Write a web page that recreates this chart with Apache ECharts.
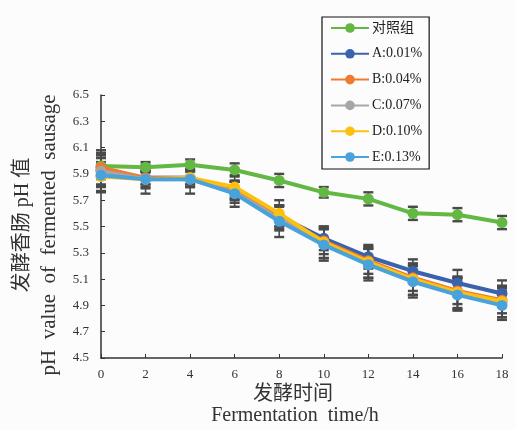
<!DOCTYPE html>
<html><head><meta charset="utf-8">
<script src="https://cdn.jsdelivr.net/npm/echarts@6/dist/echarts.min.js"></script>
<style>html,body{margin:0;padding:0;background:#fcfcfc}#c{width:516px;height:430px}</style>
</head><body><div id="c"></div>
<script>
const times = [0, 2, 4, 6, 8, 10, 12, 14, 16, 18];
const seriesNames = ['对照组', 'A:0.01%', 'B:0.04%', 'C:0.07%', 'D:0.10%', 'E:0.13%'];
const ctrlVals = [5.96, 5.95, 5.97, 5.93, 5.85, 5.76, 5.71, 5.60, 5.59, 5.53];
const aVals = [5.93, 5.87, 5.87, 5.78, 5.58, 5.41, 5.27, 5.16, 5.07, 4.99];
const bVals = [5.95, 5.87, 5.87, 5.77, 5.57, 5.39, 5.24, 5.11, 5.01, 4.94];
const cVals = [5.92, 5.86, 5.86, 5.76, 5.56, 5.37, 5.22, 5.09, 4.99, 4.92];
const dVals = [5.88, 5.86, 5.87, 5.80, 5.60, 5.38, 5.23, 5.10, 5.00, 4.93];
const eVals = [5.89, 5.86, 5.86, 5.75, 5.54, 5.36, 5.21, 5.08, 4.98, 4.90];
const ctrlErr = [0.10, 0.04, 0.04, 0.05, 0.05, 0.04, 0.05, 0.05, 0.05, 0.05];
const aErr = [0.12, 0.05, 0.05, 0.06, 0.08, 0.09, 0.09, 0.09, 0.10, 0.10];
const bErr = [0.13, 0.05, 0.05, 0.07, 0.09, 0.10, 0.10, 0.10, 0.10, 0.10];
const cErr = [0.12, 0.06, 0.06, 0.08, 0.09, 0.11, 0.11, 0.11, 0.12, 0.11];
const dErr = [0.11, 0.07, 0.07, 0.09, 0.10, 0.12, 0.12, 0.12, 0.12, 0.12];
const eErr = [0.13, 0.11, 0.11, 0.10, 0.12, 0.12, 0.12, 0.12, 0.12, 0.11];
const yTicks = [4.5, 4.7, 4.9, 5.1, 5.3, 5.5, 5.7, 5.9, 6.1, 6.3, 6.5];

const colors = ['#62b843', '#3a63ad', '#ee7b30', '#a6a6a6', '#fec010', '#4aa2dc'];
const allVals = [ctrlVals, aVals, bVals, cVals, dVals, eVals];
const allErr = [ctrlErr, aErr, bErr, cErr, dErr, eErr];

const chart = echarts.init(document.getElementById('c'), null, {renderer: 'canvas'});
const serif = '"Liberation Serif", "Noto Sans CJK SC", serif';

function errRender(params, api) {
  const x = api.value(0), lo = api.value(1), hi = api.value(2);
  const p1 = api.coord([x, lo]), p2 = api.coord([x, hi]);
  const w = 5;
  const st = {stroke: '#4a4a4a', lineWidth: 1.6};
  return {type: 'group', children: [
    {type: 'line', shape: {x1: p1[0], y1: p1[1], x2: p2[0], y2: p2[1]}, style: st},
    {type: 'line', shape: {x1: p1[0] - w, y1: p1[1], x2: p1[0] + w, y2: p1[1]}, style: {stroke: '#4a4a4a', lineWidth: 2.4}},
    {type: 'line', shape: {x1: p2[0] - w, y1: p2[1], x2: p2[0] + w, y2: p2[1]}, style: {stroke: '#4a4a4a', lineWidth: 2.4}}
  ]};
}

const series = [];
allVals.forEach((vals, i) => {
  series.push({
    type: 'custom', name: 'err' + i, renderItem: errRender, z: 1,
    encode: {x: 0, y: [1, 2]}, silent: true,
    data: times.map((t, k) => [t, vals[k] - allErr[i][k], vals[k] + allErr[i][k]])
  });
});
allVals.forEach((vals, i) => {
  series.push({
    type: 'line', name: seriesNames[i], z: 2 + i,
    data: times.map((t, k) => [t, vals[k]]),
    symbol: 'circle', symbolSize: 11,
    lineStyle: {width: 4, color: colors[i]},
    itemStyle: {color: colors[i]},
    color: colors[i]
  });
});

chart.setOption({
  backgroundColor: '#fcfcfc',
  animation: false,
  grid: {left: 101, right: 14, top: 95, bottom: 72, containLabel: false},
  legend: {
    data: seriesNames, orient: 'vertical', left: 322, top: 17,
    borderColor: '#111', borderWidth: 1.2, padding: [4, 7, 5, 8],
    itemWidth: 38, itemHeight: 12, itemGap: 11.8,
    textStyle: {fontFamily: serif, fontSize: 14, color: '#222', padding: [0, 0, 0, -2]}
  },
  xAxis: {
    type: 'value', min: 0, max: 18, interval: 2,
    axisLine: {lineStyle: {color: '#333', width: 1.5}},
    axisTick: {inside: true, length: 4, lineStyle: {color: '#333'}},
    splitLine: {show: false},
    axisLabel: {fontFamily: serif, fontSize: 13, color: '#333', margin: 10}
  },
  yAxis: {
    type: 'value', min: 4.5, max: 6.5, interval: 0.2,
    axisLine: {show: true, lineStyle: {color: '#333', width: 1.5}},
    axisTick: {show: true, inside: true, length: 4, lineStyle: {color: '#333'}},
    splitLine: {show: false},
    axisLabel: {fontFamily: serif, fontSize: 13, color: '#333', margin: 12,
      formatter: v => yTicks.find(t => Math.abs(t - v) < 1e-6) !== undefined ? v.toFixed(1) : ''}
  },
  graphic: [
    {type: 'text', x: 23, y: 225, rotation: Math.PI / 2,
      style: {text: '发酵香肠 pH 值', fontFamily: serif, fontSize: 20, fill: '#333', textAlign: 'center', textVerticalAlign: 'middle'}},
    {type: 'text', x: 49, y: 235, rotation: Math.PI / 2,
      style: {text: 'pH  value  of  fermented  sausage', fontFamily: serif, fontSize: 21, fill: '#333', textAlign: 'center', textVerticalAlign: 'middle'}},
    {type: 'text', x: 293, y: 395,
      style: {text: '发酵时间', fontFamily: serif, fontSize: 20, fill: '#333', textAlign: 'center', textVerticalAlign: 'middle'}},
    {type: 'text', x: 295, y: 416,
      style: {text: 'Fermentation  time/h', fontFamily: serif, fontSize: 20, fill: '#333', textAlign: 'center', textVerticalAlign: 'middle'}}
  ],
  series: series
});
</script></body></html>
